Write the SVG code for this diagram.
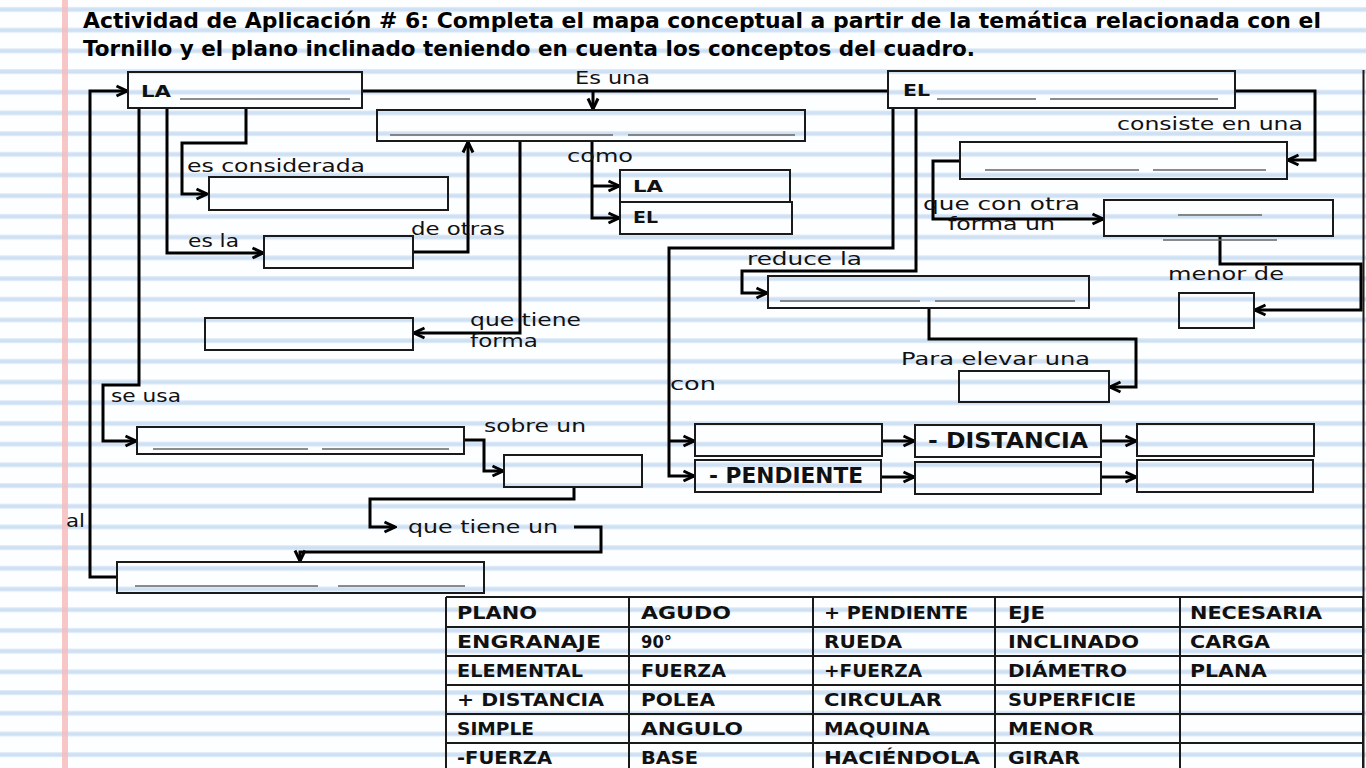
<svg xmlns="http://www.w3.org/2000/svg" width="1366" height="768" viewBox="0 0 1366 768">
<defs>
<pattern id="ruled" x="0" y="0" width="1366" height="20.7" patternUnits="userSpaceOnUse">
<rect x="0" y="7" width="1366" height="5" fill="#dde9f7"/>
<rect x="0" y="8.2" width="1366" height="2.6" fill="#cde0f4"/>
</pattern>
<marker id="arr" viewBox="0 0 14 14" refX="12.5" refY="7" markerWidth="14" markerHeight="14" markerUnits="userSpaceOnUse" orient="auto">
<path d="M2,2 L12.5,7 L2,12" fill="none" stroke="#000" stroke-width="3" stroke-linejoin="miter"/>
</marker>
</defs>
<style>
.box{fill:none;stroke:#1a1a1a;stroke-width:2}
.ul{stroke:#666;stroke-width:1.6}
.con{fill:none;stroke:#000;stroke-width:3}
.arw{marker-end:url(#arr)}
.lbl{font-family:"DejaVu Sans","Liberation Sans",sans-serif;font-size:17px;fill:#111}
.bld{font-family:"DejaVu Sans","Liberation Sans",sans-serif;font-weight:bold;fill:#111}
.ttl{font-family:"DejaVu Sans","Liberation Sans",sans-serif;font-weight:bold;font-size:20.5px;fill:#000}
.tb{font-family:"DejaVu Sans","Liberation Sans",sans-serif;font-weight:bold;font-size:17.5px;fill:#111}
.grid{fill:none;stroke:#1a1a1a;stroke-width:2}
</style>

<g id="background">
<rect width="1366" height="768" fill="#fdfeff"/>
<rect width="1366" height="768" fill="url(#ruled)"/>
<rect x="62" y="0" width="6" height="768" fill="#f6bcbc" opacity="0.85"/>
<line x1="1363.5" y1="70" x2="1363.5" y2="768" stroke="#1a1a1a" stroke-width="2"/>
</g>

<g id="title">
<text class="ttl" x="83" y="28" textLength="1238" lengthAdjust="spacingAndGlyphs">Actividad de Aplicación # 6: Completa el mapa conceptual a partir de la temática relacionada con el</text>
<text class="ttl" x="83" y="56" textLength="892" lengthAdjust="spacingAndGlyphs">Tornillo y el plano inclinado teniendo en cuenta los conceptos del cuadro.</text>
</g>

<g id="connectors">
<path class="con arw" d="M117,577 H90 V91 H127"/>
<path class="con arw" d="M139,108 V385 H103 V441 H136"/>
<path class="con arw" d="M246,108 V143 H182 V194 H207"/>
<path class="con arw" d="M167,108 V253 H263"/>
<path class="con arw" d="M413,252 H468 V142"/>
<path class="con" d="M362,91 H889"/>
<path class="con arw" d="M593,91 V109"/>
<path class="con arw" d="M520,141 V333 H414"/>
<path class="con arw" d="M592,141 V218 H619"/>
<path class="con arw" d="M592,186 H619"/>
<path class="con arw" d="M464,440 H484 V471 H503"/>
<path class="con arw" d="M574,487 V499 H370 V527 H395"/>
<path class="con arw" d="M574,527 H601 V552 H300 V561"/>
<path class="con arw" d="M1235,91 H1315 V160 H1288"/>
<path class="con arw" d="M960,161 H933 V219 H1103"/>
<path class="con arw" d="M1220,236 V264 H1361 V310 H1255"/>
<path class="con arw" d="M893,108 V248 H669 V476 H694"/>
<path class="con arw" d="M669,441 H694"/>
<path class="con arw" d="M916,108 V271 H742 V293 H767"/>
<path class="con arw" d="M929,308 V339 H1136 V387 H1110"/>
<path class="con arw" d="M882,441 H914"/>
<path class="con arw" d="M1101,441 H1136"/>
<path class="con arw" d="M881,477 H914"/>
<path class="con arw" d="M1101,477 H1136"/>
</g>

<g id="labels">
<text class="lbl" x="575" y="84" textLength="75" lengthAdjust="spacingAndGlyphs">Es una</text>
<text class="lbl" x="187" y="172" textLength="178" lengthAdjust="spacingAndGlyphs">es considerada</text>
<text class="lbl" x="188" y="247" textLength="51" lengthAdjust="spacingAndGlyphs">es la</text>
<text class="lbl" x="411" y="235" textLength="94" lengthAdjust="spacingAndGlyphs">de otras</text>
<text class="lbl" x="567" y="162" textLength="66" lengthAdjust="spacingAndGlyphs">como</text>
<text class="lbl" x="470" y="326" textLength="111" lengthAdjust="spacingAndGlyphs">que tiene</text>
<text class="lbl" x="470" y="347" textLength="68" lengthAdjust="spacingAndGlyphs">forma</text>
<text class="lbl" x="111" y="402" textLength="70" lengthAdjust="spacingAndGlyphs">se usa</text>
<text class="lbl" x="484" y="432" textLength="102" lengthAdjust="spacingAndGlyphs">sobre un</text>
<text class="lbl" x="408" y="533" textLength="150" lengthAdjust="spacingAndGlyphs">que tiene un</text>
<text class="lbl" x="66" y="527" textLength="19" lengthAdjust="spacingAndGlyphs">al</text>
<text class="lbl" x="1117" y="130" textLength="186" lengthAdjust="spacingAndGlyphs">consiste  en una</text>
<text class="lbl" x="923" y="210" textLength="157" lengthAdjust="spacingAndGlyphs">que con otra</text>
<text class="lbl" x="948" y="230" textLength="107" lengthAdjust="spacingAndGlyphs">forma un</text>
<text class="lbl" x="1168" y="280" textLength="116" lengthAdjust="spacingAndGlyphs">menor de</text>
<text class="lbl" x="747" y="265" textLength="115" lengthAdjust="spacingAndGlyphs">reduce la</text>
<text class="lbl" x="901" y="365" textLength="189" lengthAdjust="spacingAndGlyphs">Para elevar una</text>
<text class="lbl" x="670" y="390" textLength="46" lengthAdjust="spacingAndGlyphs">con</text>
</g>

<g id="node-la-top">
<rect class="box" x="128" y="72" width="234" height="36"/>
<text class="bld" x="141" y="97" font-size="16.5" textLength="30" lengthAdjust="spacingAndGlyphs">LA</text>
<line class="ul" x1="180" y1="99" x2="350" y2="99"/>
</g>
<g id="node-es-una">
<rect class="box" x="377" y="110" width="428" height="31"/>
<line class="ul" x1="390" y1="135" x2="613" y2="135"/>
<line class="ul" x1="628" y1="135" x2="795" y2="135"/>
</g>
<g id="node-como-la">
<rect class="box" x="620" y="170" width="170" height="32"/>
<text class="bld" x="633" y="192" font-size="16.5" textLength="30" lengthAdjust="spacingAndGlyphs">LA</text>
</g>
<g id="node-como-el">
<rect class="box" x="620" y="202" width="172" height="32"/>
<text class="bld" x="633" y="223" font-size="16.5" textLength="25" lengthAdjust="spacingAndGlyphs">EL</text>
</g>
<g id="node-considerada">
<rect class="box" x="209" y="177" width="239" height="33"/>
</g>
<g id="node-es-la">
<rect class="box" x="264" y="236" width="149" height="32"/>
</g>
<g id="node-forma">
<rect class="box" x="205" y="318" width="208" height="32"/>
</g>
<g id="node-se-usa">
<rect class="box" x="137" y="427" width="327" height="27"/>
<line class="ul" x1="153" y1="449" x2="308" y2="449"/>
<line class="ul" x1="322" y1="449" x2="449" y2="449"/>
</g>
<g id="node-sobre-un">
<rect class="box" x="504" y="455" width="138" height="32"/>
</g>
<g id="node-bottom">
<rect class="box" x="117" y="562" width="367" height="31"/>
<line class="ul" x1="135" y1="586" x2="318" y2="586"/>
<line class="ul" x1="338" y1="586" x2="465" y2="586"/>
</g>
<g id="node-el-top">
<rect class="box" x="888" y="71" width="347" height="37"/>
<text class="bld" x="903" y="96" font-size="16.5" textLength="27" lengthAdjust="spacingAndGlyphs">EL</text>
<line class="ul" x1="937" y1="99" x2="1036" y2="99"/>
<line class="ul" x1="1050" y1="99" x2="1218" y2="99"/>
</g>
<g id="node-consiste">
<rect class="box" x="960" y="142" width="327" height="37"/>
<line class="ul" x1="985" y1="170" x2="1139" y2="170"/>
<line class="ul" x1="1153" y1="170" x2="1266" y2="170"/>
</g>
<g id="node-forma-un">
<rect class="box" x="1104" y="200" width="229" height="36"/>
<line class="ul" x1="1178" y1="215" x2="1262" y2="215"/>
<line class="ul" x1="1163" y1="240" x2="1277" y2="240"/>
</g>
<g id="node-menor-de">
<rect class="box" x="1179" y="293" width="75" height="35"/>
</g>
<g id="node-reduce">
<rect class="box" x="768" y="276" width="321" height="32"/>
<line class="ul" x1="780" y1="301" x2="920" y2="301"/>
<line class="ul" x1="935" y1="301" x2="1075" y2="301"/>
</g>
<g id="node-elevar">
<rect class="box" x="959" y="371" width="150" height="31"/>
</g>
<g id="node-r1c1"><rect class="box" x="695" y="424" width="187" height="32"/></g>
<g id="node-r1c2">
<rect class="box" x="915" y="425" width="186" height="32"/>
<text class="bld" x="928" y="448" font-size="20.5" textLength="160" lengthAdjust="spacingAndGlyphs">- DISTANCIA</text>
</g>
<g id="node-r1c3"><rect class="box" x="1137" y="424" width="177" height="32"/></g>
<g id="node-r2c1">
<rect class="box" x="695" y="460" width="186" height="32"/>
<text class="bld" x="709" y="483" font-size="20.5" textLength="154" lengthAdjust="spacingAndGlyphs">- PENDIENTE</text>
</g>
<g id="node-r2c2"><rect class="box" x="915" y="462" width="186" height="32"/></g>
<g id="node-r2c3"><rect class="box" x="1137" y="460" width="176" height="32"/></g>

<g id="table">
<path class="grid" d="M446,597 V770 M629,597 V770 M813,597 V770 M995,597 V770 M1180,597 V770 M1363,597 V770 M446,597 H1363 M446,627 H1363 M446,656 H1363 M446,685 H1363 M446,714 H1363 M446,743 H1363"/>
<text class="tb" x="457" y="619" textLength="80" lengthAdjust="spacingAndGlyphs">PLANO</text>
<text class="tb" x="641" y="619" textLength="90" lengthAdjust="spacingAndGlyphs">AGUDO</text>
<text class="tb" x="824" y="619" textLength="144" lengthAdjust="spacingAndGlyphs">+ PENDIENTE</text>
<text class="tb" x="1008" y="619" textLength="37" lengthAdjust="spacingAndGlyphs">EJE</text>
<text class="tb" x="1190" y="619" textLength="132" lengthAdjust="spacingAndGlyphs">NECESARIA</text>
<text class="tb" x="457" y="648" textLength="144" lengthAdjust="spacingAndGlyphs">ENGRANAJE</text>
<text class="tb" x="641" y="648" textLength="31" lengthAdjust="spacingAndGlyphs">90°</text>
<text class="tb" x="824" y="648" textLength="78" lengthAdjust="spacingAndGlyphs">RUEDA</text>
<text class="tb" x="1008" y="648" textLength="131" lengthAdjust="spacingAndGlyphs">INCLINADO</text>
<text class="tb" x="1190" y="648" textLength="80" lengthAdjust="spacingAndGlyphs">CARGA</text>
<text class="tb" x="457" y="677" textLength="126" lengthAdjust="spacingAndGlyphs">ELEMENTAL</text>
<text class="tb" x="641" y="677" textLength="85" lengthAdjust="spacingAndGlyphs">FUERZA</text>
<text class="tb" x="824" y="677" textLength="98" lengthAdjust="spacingAndGlyphs">+FUERZA</text>
<text class="tb" x="1008" y="677" textLength="119" lengthAdjust="spacingAndGlyphs">DIÁMETRO</text>
<text class="tb" x="1190" y="677" textLength="77" lengthAdjust="spacingAndGlyphs">PLANA</text>
<text class="tb" x="457" y="706" textLength="147" lengthAdjust="spacingAndGlyphs">+ DISTANCIA</text>
<text class="tb" x="641" y="706" textLength="74" lengthAdjust="spacingAndGlyphs">POLEA</text>
<text class="tb" x="824" y="706" textLength="118" lengthAdjust="spacingAndGlyphs">CIRCULAR</text>
<text class="tb" x="1008" y="706" textLength="128" lengthAdjust="spacingAndGlyphs">SUPERFICIE</text>
<text class="tb" x="457" y="735" textLength="77" lengthAdjust="spacingAndGlyphs">SIMPLE</text>
<text class="tb" x="641" y="735" textLength="102" lengthAdjust="spacingAndGlyphs">ANGULO</text>
<text class="tb" x="824" y="735" textLength="106" lengthAdjust="spacingAndGlyphs">MAQUINA</text>
<text class="tb" x="1008" y="735" textLength="86" lengthAdjust="spacingAndGlyphs">MENOR</text>
<text class="tb" x="457" y="764" textLength="95" lengthAdjust="spacingAndGlyphs">-FUERZA</text>
<text class="tb" x="641" y="764" textLength="57" lengthAdjust="spacingAndGlyphs">BASE</text>
<text class="tb" x="824" y="764" textLength="156" lengthAdjust="spacingAndGlyphs">HACIÉNDOLA</text>
<text class="tb" x="1008" y="764" textLength="72" lengthAdjust="spacingAndGlyphs">GIRAR</text>
</g>
</svg>
